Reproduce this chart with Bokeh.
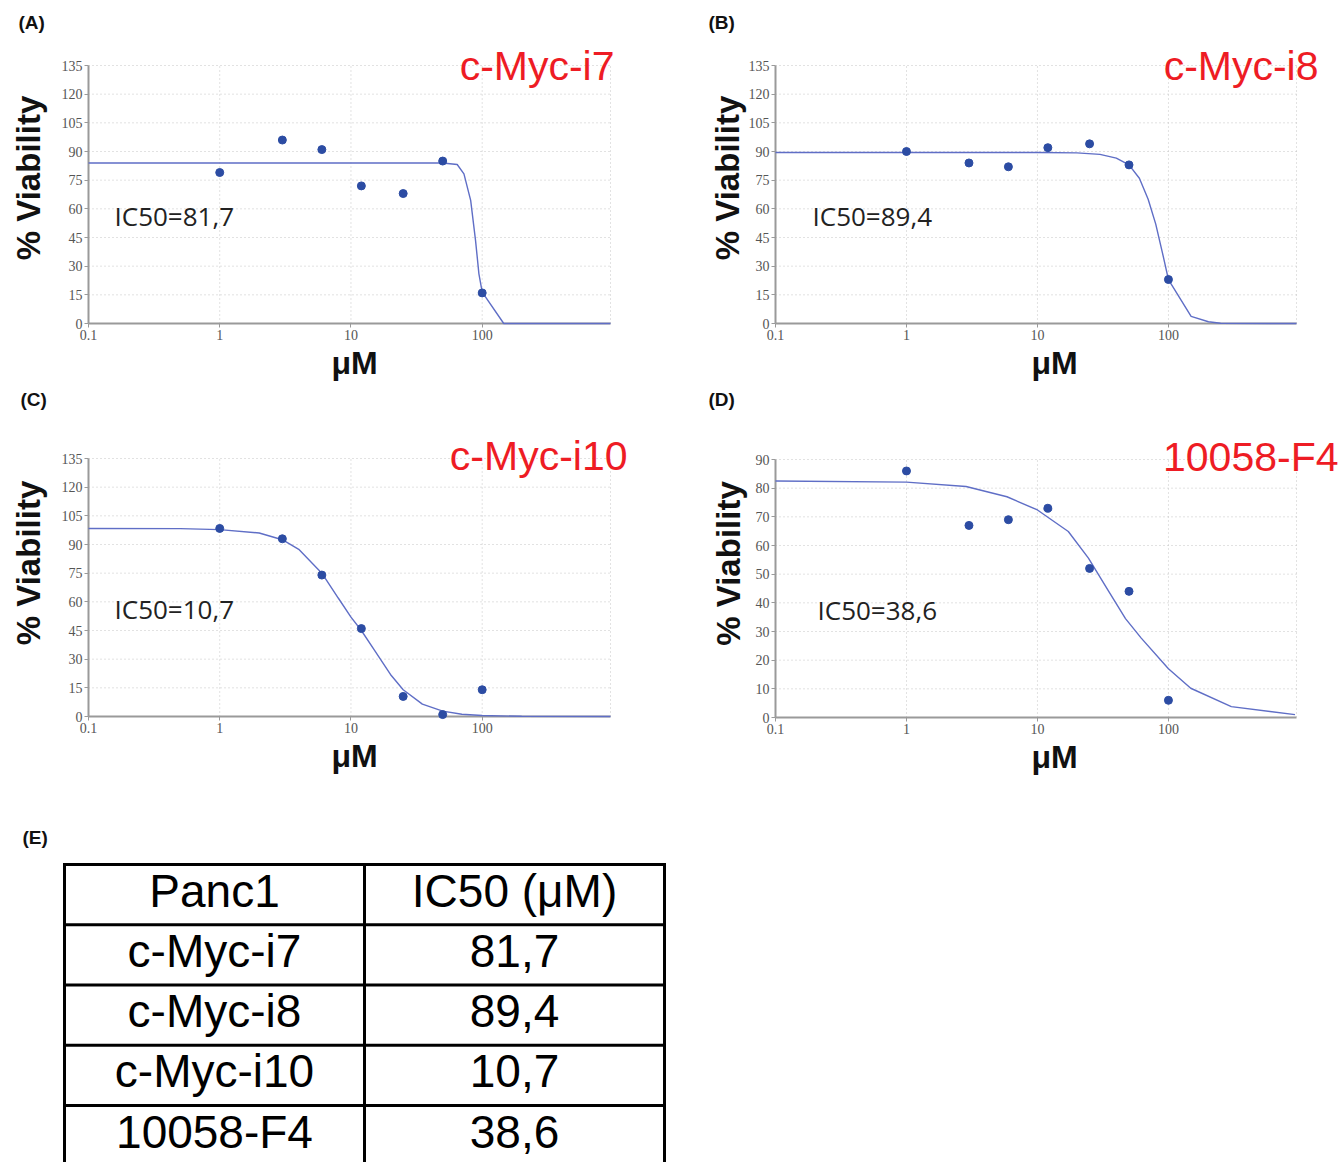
import math
from bokeh.plotting import figure
from bokeh.layouts import column, row
from bokeh.models import Range1d, FixedTicker, CustomJSTickFormatter, Label, Title
from bokeh.embed import file_html
from bokeh.resources import INLINE
from bokeh.core.properties import value

# ---------------- data ----------------
dose = [1, 3, 6, 12, 25, 50, 100]
via_i7 = [79, 96, 91, 72, 68, 85, 16]
via_i8 = [90, 84, 82, 92, 94, 83, 23]
via_i10 = [98.4, 93, 74, 46, 10.5, 1, 14]
via_f4 = [86, 67, 69, 73, 52, 44, 6]

fit_i7_x = [0.1, 1, 10, 50, 64.5, 72.6, 81.7, 89, 94.4, 100, 146, 950]
fit_i7_y = [84, 84, 84, 84, 83.2, 78.3, 64.4, 43.4, 26, 16.4, 0, 0]

fit_i8_x = [0.1, 1, 10, 20, 30, 40, 50, 60, 70, 80, 90, 100, 149, 202, 250, 950]
fit_i8_y = [89.5, 89.5, 89.5, 89.3, 88.5, 86.5, 83, 76, 65, 52, 37, 23, 3.7, 0.9, 0.1, 0]

fit_i10_x = [0.1, 0.5, 1, 2, 3, 4, 6, 8, 10, 12, 15, 20, 25, 35, 50, 70, 100, 200, 950]
fit_i10_y = [98.4, 98.3, 97.8, 96, 92.5, 87.5, 75, 62, 52, 45, 35, 22, 14, 6.5, 2.8, 1.2, 0.5, 0.1, 0]

fit_f4_x = [0.1, 1, 2.85, 5.85, 10, 17.2, 24.5, 35, 47, 62, 100, 148, 302, 925]
fit_f4_y = [82.5, 82.1, 80.6, 77, 72.4, 64.9, 55.6, 44, 34.5, 27.7, 17, 10.2, 3.8, 1]

compounds = ["c-Myc-i7", "c-Myc-i8", "c-Myc-i10", "10058-F4"]
ic50_vals = ["81,7", "89,4", "10,7", "38,6"]
table_header = ["Panc1", "IC50 (\u03bcM)"]
panel_tags = ["(A)", "(B)", "(C)", "(D)"]

x_ticks = [0.1, 1, 10, 100]
y_ticks_135 = [0, 15, 30, 45, 60, 75, 90, 105, 120, 135]
y_ticks_90 = [0, 10, 20, 30, 40, 50, 60, 70, 80, 90]

X_START, X_END = 0.1, 950

DOT = "#2c4ca3"
CURVE = "#5f6ec6"
RED = "#ee1c24"
AXIS_GRAY = "#9a9a9a"
GRID_GRAY = "#c4c4c4"


def panel(tag, name, ic50, xs, ys, fx, fy, yticks, fig_box, data_box, frame_top,
          frame_right, ylab_standoff, title_off, tag_off, ic_off, xlab_off):
    fl, ft, fr, fb = fig_box          # figure box in page pixels
    dl, dt, dr, db = data_box         # plotted data area in page pixels
    yend = yticks[-1]
    decade = (dr - dl) / math.log10(X_END / X_START)
    x_hi = 10 ** (math.log10(X_END) + (frame_right - dr) / decade)
    y_scale = (db - dt) / yend
    y_hi = yend + (dt - frame_top) / y_scale

    p = figure(x_axis_type="log", x_range=Range1d(X_START, x_hi),
               y_range=Range1d(0, y_hi),
               frame_width=frame_right - dl, frame_height=db - frame_top,
               min_border_left=dl - fl, min_border_right=fr - frame_right,
               min_border_top=frame_top - ft, min_border_bottom=fb - db,
               output_backend="svg", toolbar_location=None, title=tag)
    p.background_fill_color = "white"
    p.border_fill_color = "white"
    p.outline_line_color = None
    p.xgrid.visible = False
    p.ygrid.visible = False

    p.title.align = "left"
    p.title.offset = tag_off
    p.title.standoff = 0
    p.title.text_font = "Liberation Sans"
    p.title.text_font_style = "bold"
    p.title.text_font_size = "19px"
    p.title.text_color = "#111111"

    p.xaxis.ticker = FixedTicker(ticks=x_ticks)
    p.xaxis.formatter = CustomJSTickFormatter(code="return String(tick);")
    p.yaxis.ticker = FixedTicker(ticks=yticks)
    p.xaxis.bounds = (X_START, X_END)
    p.yaxis.bounds = (0, yend)
    for ax in (p.xaxis, p.yaxis):
        ax.axis_line_color = AXIS_GRAY
        ax.axis_line_width = 2
        ax.major_tick_line_color = AXIS_GRAY
        ax.major_tick_line_width = 1
        ax.major_tick_out = 4
        ax.major_tick_in = 0
        ax.minor_tick_line_color = None
        ax.major_label_text_font = "Liberation Serif"
        ax.major_label_text_font_size = "14px"
        ax.major_label_text_color = "#555555"
        ax.major_label_standoff = 2
    p.yaxis.axis_label = "% Viability"
    p.yaxis.axis_label_standoff = ylab_standoff
    p.yaxis.axis_label_text_font = "Liberation Sans"
    p.yaxis.axis_label_text_font_style = "bold"
    p.yaxis.axis_label_text_font_size = "33px"
    p.yaxis.axis_label_text_color = "#111111"

    p.add_layout(Title(text="\u03bcM", align="left", offset=xlab_off, standoff=0,
                       text_font="Liberation Sans", text_font_style="bold",
                       text_font_size="32px", text_color="#111111"), "below")

    # dotted grid, limited to the data area
    gx = x_ticks[1:] + [X_END]
    p.segment(x0=gx, y0=[0] * len(gx), x1=gx, y1=[yend] * len(gx),
              line_color=GRID_GRAY, line_dash="1 3", line_width=1)
    gy = yticks[1:]
    p.segment(x0=[X_START] * len(gy), y0=gy, x1=[X_END] * len(gy), y1=gy,
              line_color=GRID_GRAY, line_dash="1 3", line_width=1)

    p.line(fx, fy, line_color=CURVE, line_width=1.4, level="overlay")
    p.scatter(xs, ys, size=8, fill_color=DOT, line_color=DOT, level="overlay")

    p.add_layout(Label(x=X_END, y=yend, x_offset=title_off[0], y_offset=title_off[1],
                       text=name, text_align="right", text_baseline="middle",
                       text_color=RED, text_font="Liberation Sans",
                       text_font_size="41px"))
    p.add_layout(Label(x=X_START, y=0, x_offset=ic_off, y_offset=108,
                       text="IC50=" + ic50, text_align="left", text_baseline="middle",
                       text_color="#222222", text_font="Open Sans",
                       text_font_size="26px"))
    return p


pA = panel(panel_tags[0], compounds[0], ic50_vals[0], dose, via_i7, fit_i7_x, fit_i7_y,
           y_ticks_135, fig_box=(0, 0, 668, 384), data_box=(88, 65, 610, 323),
           frame_top=32, frame_right=664, ylab_standoff=12,
           title_off=(4, 0), tag_off=-70, ic_off=26, xlab_off=243)
pB = panel(panel_tags[1], compounds[1], ic50_vals[1], dose, via_i8, fit_i8_x, fit_i8_y,
           y_ticks_135, fig_box=(668, 0, 1341, 384), data_box=(775, 65, 1296, 323),
           frame_top=32, frame_right=1339, ylab_standoff=0,
           title_off=(22, 0), tag_off=-67, ic_off=37, xlab_off=256)
pC = panel(panel_tags[2], compounds[2], ic50_vals[2], dose, via_i10, fit_i10_x, fit_i10_y,
           y_ticks_135, fig_box=(0, 384, 668, 790), data_box=(88, 458, 610, 716),
           frame_top=409, frame_right=664, ylab_standoff=12,
           title_off=(17, 3), tag_off=-68, ic_off=26, xlab_off=243)
pD = panel(panel_tags[3], compounds[3], ic50_vals[3], dose, via_f4, fit_f4_x, fit_f4_y,
           y_ticks_90, fig_box=(668, 384, 1341, 790), data_box=(775, 458, 1296, 716),
           frame_top=408, frame_right=1339, ylab_standoff=6,
           title_off=(42, 3), tag_off=-67, ic_off=42, xlab_off=256)

# ---------------- table (E) ----------------
TW, TH = 1341, 372
t = figure(width=TW, height=TH, x_range=Range1d(0, TW), y_range=Range1d(TH, 0),
           x_axis_location=None, y_axis_location=None, min_border=0,
           output_backend="svg", toolbar_location=None)
t.grid.visible = False
t.outline_line_color = None

top, row_h = 74, 60.25
col_edges = [64, 364, 664]
n_rows = len(compounds) + 1
hy = [top + i * row_h for i in range(n_rows)]
t.segment(x0=[col_edges[0] - 1.5] * n_rows, y0=hy, x1=[col_edges[-1] + 1.5] * n_rows, y1=hy,
          line_color="black", line_width=3)
t.segment(x0=col_edges, y0=[top - 1.5] * 3, x1=col_edges, y1=[TH] * 3,
          line_color="black", line_width=3)

left_col = [table_header[0]] + compounds
right_col = [table_header[1]] + ic50_vals
cy = [top + (i + 0.5) * row_h - 4 for i in range(n_rows)]
cx_l = (col_edges[0] + col_edges[1]) / 2
cx_r = (col_edges[1] + col_edges[2]) / 2
t.text(x=[cx_l] * n_rows, y=cy, text=left_col, text_font=value("Liberation Sans"),
       text_font_size="46px", text_align="center", text_baseline="middle",
       text_color="black")
t.text(x=[cx_r] * n_rows, y=cy, text=right_col, text_font=value("Liberation Sans"),
       text_font_size="46px", text_align="center", text_baseline="middle",
       text_color="black")
t.add_layout(Label(x=22, y=47, text="(E)", text_align="left", text_baseline="middle",
                   text_color="#111111", text_font="Liberation Sans",
                   text_font_style="bold", text_font_size="19px"))

layout = column(row(pA, pB), row(pC, pD), t)
open("out.html", "w").write(file_html(layout, INLINE))
